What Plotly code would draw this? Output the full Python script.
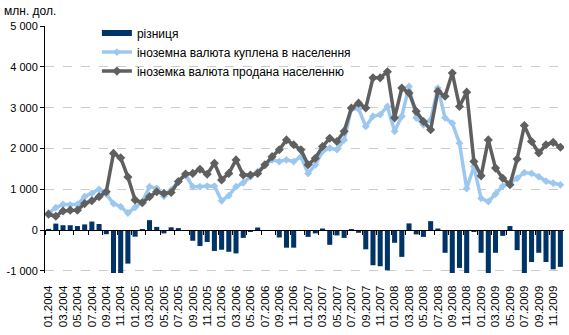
import plotly.graph_objects as go

months = [f"{m:02d}.{y}" for y in range(2004, 2010) for m in range(1, 13)]

bought = [420, 550, 630, 620, 630, 820, 900, 1000, 880, 650, 575, 420,
          560, 700, 1065, 1025, 830, 985, 1190, 1350, 1065, 1065, 1080, 1080,
          720, 845, 1065, 1160, 1310, 1430, 1600, 1720, 1680, 1720, 1680, 1800,
          1390, 1600, 1930, 2010, 1970, 2210, 2970, 2970, 2540, 2790, 2830, 3030,
          2420, 2790, 3520, 2750, 2580, 2700, 3480, 2750, 2620, 2130, 1020, 1560,
          780, 700, 885, 1080, 1160, 1270, 1410, 1390, 1310, 1200, 1150, 1110]

sold = [390, 340, 470, 490, 490, 650, 720, 820, 940, 1880, 1770, 1300,
        740, 670, 820, 940, 900, 920, 1190, 1375, 1390, 1490, 1370, 1640,
        1230, 1390, 1720, 1350, 1350, 1390, 1600, 1800, 1970, 2210, 2090, 1970,
        1600, 1760, 2050, 2250, 2170, 2420, 2990, 3110, 2990, 3730, 3730, 3880,
        2750, 3480, 3360, 2910, 2660, 2460, 3400, 3280, 3850, 3030, 3380, 1680,
        1330, 2210, 1520, 1270, 1110, 1740, 2560, 2170, 1890, 2090, 2150, 2030]

diff = [30, 160, 120, 120, 100, 140, 210, 150, -100, -1230, -1195, -820,
        -160, 25, 245, 80, -80, 70, 50, 0, -260, -390, -290, -510,
        -480, -530, -570, -190, -40, 65, 0, 0, -180, -430, -430, 0,
        -165, -80, 40, -360, -130, -190, 25, -65, -470, -860, -885, -985,
        -310, -655, 165, -105, -165, 220, 40, -555, -1230, -925, -2360, -40,
        -555, -1510, -555, -140, 100, -490, -1150, -780, -555, -780, -960, -900]

y_ticks = [-1000, 0, 1000, 2000, 3000, 4000, 5000]
y_ticktext = ["-1 000", "0", "1 000", "2 000", "3 000", "4 000", "5 000"]

idx = list(range(len(months)))
FONT = "Arial, 'Liberation Sans', sans-serif"
YMIN, YMAX = -1050, 5000
NAVY = "#003366"
LIGHT = "#9CC8F0"
DARK = "#5F5F5F"

fig = go.Figure()
fig.add_trace(go.Bar(x=idx, y=diff, name="різниця", marker_color=NAVY,
                     marker_line_width=0, width=0.7, showlegend=False,
                     legendgroup="d"))
# legend swatch for the bar series (flat wide rectangle as in reference)
fig.add_trace(go.Scatter(x=[None], y=[None], name="різниця", mode="lines",
                         line=dict(color=NAVY, width=6), legendgroup="d"))
fig.add_trace(go.Scatter(x=idx, y=bought, name="іноземна валюта куплена в населення",
                         mode="lines+markers",
                         line=dict(color=LIGHT, width=3.5),
                         marker=dict(symbol="diamond", size=6, color=LIGHT)))
fig.add_trace(go.Scatter(x=idx, y=sold, name="іноземка валюта продана населенню",
                         mode="lines+markers",
                         line=dict(color=DARK, width=3.5),
                         marker=dict(symbol="diamond", size=7, color=DARK)))
# invisible trace so the zero-line tick axis renders
fig.add_trace(go.Scatter(x=[0], y=[0], xaxis="x2", mode="markers",
                         marker=dict(opacity=0), showlegend=False, hoverinfo="skip"))

zero_pos = (0 - YMIN) / (YMAX - YMIN)

fig.update_layout(
    width=569, height=335,
    margin=dict(l=45, r=5, t=26, b=62),
    paper_bgcolor="white", plot_bgcolor="white",
    font=dict(family=FONT, size=10, color="black"),
    showlegend=True,
    legend=dict(x=0.1, y=1.03, xanchor="left", yanchor="top",
                bgcolor="rgba(0,0,0,0)", font=dict(size=12, color="black"),
                itemwidth=30, tracegroupgap=0),
    xaxis=dict(range=[-0.5, len(months) - 0.5],
               tickvals=idx[::2], ticktext=months[::2], tickangle=-90,
               showgrid=False, zeroline=False, showline=False,
               ticks="outside", ticklen=7, tickcolor="rgba(0,0,0,0)",
               tickfont=dict(size=11.5, family=FONT)),
    xaxis2=dict(overlaying="x", anchor="free", position=zero_pos,
                range=[-0.5, len(months) - 0.5],
                tickvals=[-0.5] + [i + 1.5 for i in idx[::2]][:-1],
                showticklabels=False, ticks="outside", ticklen=4,
                tickcolor="black", showline=True, linecolor="black", linewidth=1,
                showgrid=False, zeroline=False),
    yaxis=dict(range=[YMIN, YMAX], tickvals=y_ticks, ticktext=y_ticktext,
               showgrid=True, gridcolor="#CCCCCC", griddash="dash", gridwidth=1,
               zeroline=True, zerolinecolor="black", zerolinewidth=1,
               showline=True, linecolor="black", linewidth=1,
               ticks="outside", ticklen=4, tickcolor="black",
               tickfont=dict(size=11, family=FONT)),
    annotations=[dict(text="млн. дол.", xref="paper", yref="paper",
                      x=-0.082, y=1.062, xanchor="left", yanchor="middle",
                      showarrow=False, font=dict(size=12, family=FONT))],
)

fig.write_html("out.html")
